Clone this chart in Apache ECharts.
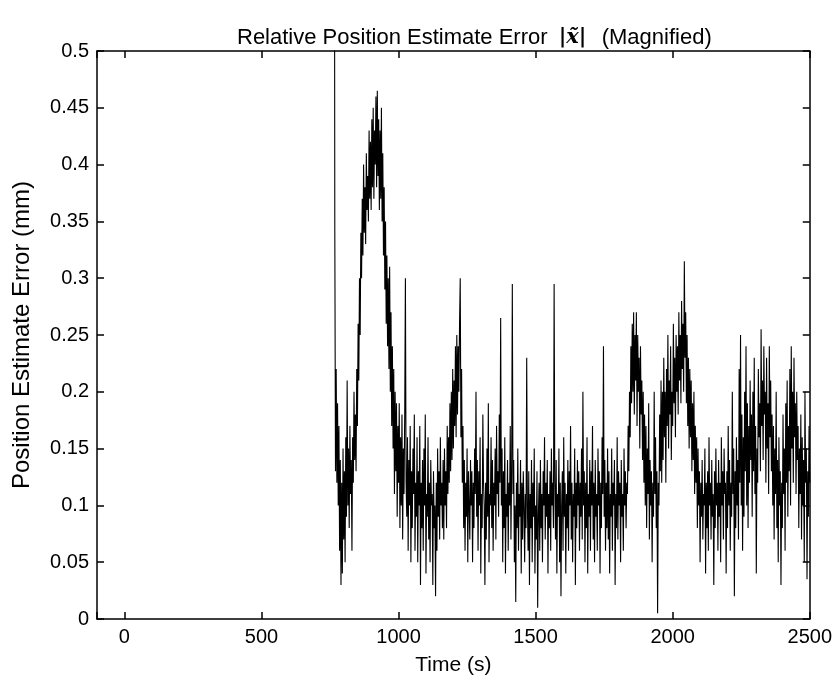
<!DOCTYPE html>
<html>
<head>
<meta charset="utf-8">
<script src="https://cdn.jsdelivr.net/npm/echarts@6/dist/echarts.min.js"></script>
<style>html,body{margin:0;padding:0;background:#fff;}#chart{width:835px;height:681px;}</style>
</head>
<body>
<div id="chart"></div>
<script>
// Sampling grid of the error signal (seconds)
var T_START = 765;
var T_STEP = 2.5;
// Position estimate error (mm), 40 samples (100 s) per block
var errorValues = [
  0.95, 0.34, 0.13, 0.22, 0.12, 0.19, 0.10, 0.17, 0.06, 0.14,
  0.03, 0.12, 0.04, 0.15, 0.07, 0.13, 0.05, 0.16, 0.09, 0.21,
  0.10, 0.15, 0.08, 0.17, 0.11, 0.14, 0.06, 0.16, 0.12, 0.20,
  0.14, 0.18, 0.13, 0.22, 0.17, 0.26, 0.21, 0.30, 0.25, 0.34,

  0.30, 0.37, 0.32, 0.40, 0.34, 0.38, 0.33, 0.41, 0.36, 0.39,
  0.35, 0.43, 0.37, 0.42, 0.36, 0.44, 0.38, 0.45, 0.37, 0.43,
  0.40, 0.46, 0.38, 0.465, 0.39, 0.44, 0.36, 0.43, 0.37, 0.45,
  0.35, 0.41, 0.32, 0.38, 0.29, 0.35, 0.26, 0.32, 0.24, 0.30,

  0.22, 0.31, 0.20, 0.27, 0.17, 0.24, 0.15, 0.22, 0.11, 0.20,
  0.13, 0.19, 0.09, 0.17, 0.12, 0.19, 0.08, 0.16, 0.10, 0.18,
  0.07, 0.15, 0.11, 0.18, 0.30, 0.12, 0.09, 0.16, 0.06, 0.14,
  0.10, 0.17, 0.05, 0.13, 0.08, 0.15, 0.11, 0.18, 0.06, 0.12,

  0.09, 0.16, 0.05, 0.13, 0.10, 0.17, 0.03, 0.12, 0.08, 0.14,
  0.06, 0.15, 0.10, 0.18, 0.04, 0.11, 0.09, 0.16, 0.07, 0.12,
  0.05, 0.14, 0.10, 0.11, 0.03, 0.13, 0.08, 0.10, 0.02, 0.12,
  0.06, 0.15, 0.09, 0.13, 0.07, 0.16, 0.10, 0.12, 0.08, 0.14,

  0.07, 0.15, 0.10, 0.13, 0.08, 0.17, 0.11, 0.16, 0.12, 0.19,
  0.13, 0.20, 0.14, 0.22, 0.15, 0.21, 0.17, 0.24, 0.16, 0.25,
  0.18, 0.24, 0.20, 0.26, 0.30, 0.16, 0.22, 0.12, 0.17, 0.08,
  0.14, 0.06, 0.12, 0.09, 0.15, 0.05, 0.13, 0.10, 0.07, 0.14,

  0.10, 0.13, 0.05, 0.12, 0.08, 0.15, 0.11, 0.20, 0.09, 0.14,
  0.06, 0.13, 0.10, 0.16, 0.04, 0.11, 0.08, 0.18, 0.12, 0.10,
  0.03, 0.12, 0.07, 0.15, 0.09, 0.19, 0.05, 0.11, 0.10, 0.16,
  0.08, 0.14, 0.06, 0.12, 0.10, 0.15, 0.07, 0.17, 0.11, 0.13,

  0.09, 0.18, 0.12, 0.265, 0.10, 0.15, 0.05, 0.13, 0.08, 0.16,
  0.04, 0.11, 0.09, 0.14, 0.06, 0.12, 0.10, 0.17, 0.07, 0.13,
  0.295, 0.11, 0.14, 0.05, 0.10, 0.015, 0.12, 0.08, 0.15, 0.06,
  0.11, 0.09, 0.14, 0.04, 0.12, 0.07, 0.13, 0.10, 0.05, 0.11,

  0.08, 0.23, 0.10, 0.06, 0.13, 0.03, 0.11, 0.08, 0.14, 0.05,
  0.12, 0.09, 0.15, 0.04, 0.10, 0.07, 0.13, 0.01, 0.09, 0.12,
  0.06, 0.14, 0.08, 0.11, 0.05, 0.13, 0.10, 0.16, 0.07, 0.12,
  0.09, 0.14, 0.04, 0.11, 0.08, 0.13, 0.06, 0.15, 0.10, 0.12,

  0.08, 0.295, 0.12, 0.07, 0.14, 0.04, 0.11, 0.09, 0.15, 0.05,
  0.12, 0.02, 0.10, 0.13, 0.06, 0.16, 0.09, 0.12, 0.04, 0.11,
  0.08, 0.14, 0.06, 0.13, 0.10, 0.17, 0.07, 0.12, 0.05, 0.11,
  0.09, 0.15, 0.03, 0.12, 0.08, 0.14, 0.10, 0.13, 0.06, 0.12,

  0.09, 0.15, 0.07, 0.20, 0.10, 0.13, 0.05, 0.12, 0.08, 0.16,
  0.04, 0.11, 0.09, 0.14, 0.06, 0.13, 0.10, 0.17, 0.07, 0.12,
  0.05, 0.14, 0.09, 0.11, 0.06, 0.15, 0.10, 0.13, 0.04, 0.12,
  0.08, 0.16, 0.11, 0.24, 0.09, 0.14, 0.06, 0.12, 0.08, 0.15,

  0.07, 0.13, 0.04, 0.11, 0.09, 0.15, 0.06, 0.12, 0.10, 0.14,
  0.03, 0.11, 0.08, 0.16, 0.07, 0.13, 0.10, 0.12, 0.05, 0.14,
  0.09, 0.11, 0.06, 0.15, 0.10, 0.13, 0.08, 0.12, 0.11, 0.17,
  0.13, 0.20, 0.16, 0.24, 0.19, 0.26, 0.20, 0.27, 0.18, 0.25,

  0.21, 0.27, 0.17, 0.25, 0.20, 0.23, 0.15, 0.24, 0.18, 0.21,
  0.14, 0.20, 0.12, 0.18, 0.10, 0.17, 0.08, 0.15, 0.11, 0.19,
  0.07, 0.14, 0.10, 0.13, 0.05, 0.12, 0.09, 0.20, 0.11, 0.16,
  0.08, 0.13, 0.005, 0.12, 0.10, 0.18, 0.13, 0.21, 0.12, 0.20,

  0.14, 0.23, 0.16, 0.20, 0.12, 0.22, 0.17, 0.25, 0.15, 0.21,
  0.18, 0.24, 0.14, 0.20, 0.17, 0.26, 0.19, 0.23, 0.16, 0.25,
  0.20, 0.24, 0.18, 0.27, 0.21, 0.25, 0.19, 0.28, 0.22, 0.26,
  0.20, 0.315, 0.23, 0.27, 0.19, 0.25, 0.17, 0.23, 0.15, 0.22,

  0.16, 0.21, 0.13, 0.19, 0.14, 0.20, 0.11, 0.17, 0.12, 0.16,
  0.08, 0.15, 0.10, 0.13, 0.05, 0.12, 0.09, 0.14, 0.07, 0.11,
  0.10, 0.15, 0.04, 0.12, 0.08, 0.13, 0.06, 0.16, 0.10, 0.12,
  0.07, 0.14, 0.09, 0.11, 0.03, 0.13, 0.08, 0.15, 0.10, 0.12,

  0.06, 0.14, 0.09, 0.12, 0.05, 0.16, 0.10, 0.13, 0.07, 0.15,
  0.11, 0.12, 0.04, 0.13, 0.08, 0.17, 0.10, 0.14, 0.06, 0.12,
  0.09, 0.20, 0.11, 0.15, 0.02, 0.13, 0.08, 0.16, 0.10, 0.14,
  0.07, 0.22, 0.12, 0.25, 0.10, 0.18, 0.06, 0.16, 0.09, 0.20,

  0.13, 0.24, 0.10, 0.19, 0.08, 0.17, 0.12, 0.21, 0.14, 0.18,
  0.09, 0.20, 0.13, 0.23, 0.11, 0.17, 0.04, 0.15, 0.12, 0.22,
  0.16, 0.19, 0.13, 0.255, 0.17, 0.21, 0.14, 0.24, 0.18, 0.20,
  0.12, 0.23, 0.15, 0.19, 0.11, 0.24, 0.16, 0.21, 0.13, 0.18,

  0.10, 0.17, 0.07, 0.15, 0.11, 0.20, 0.08, 0.14, 0.05, 0.16,
  0.10, 0.13, 0.03, 0.12, 0.08, 0.18, 0.11, 0.15, 0.06, 0.19,
  0.12, 0.21, 0.09, 0.17, 0.13, 0.22, 0.10, 0.24, 0.15, 0.20,
  0.12, 0.23, 0.16, 0.19, 0.11, 0.20, 0.14, 0.17, 0.08, 0.15,

  0.11, 0.18, 0.07, 0.16, 0.10, 0.14, 0.05, 0.20, 0.12, 0.15,
  0.035, 0.13, 0.09, 0.17, 0.12
];
var xTickLabels = ['0', '500', '1000', '1500', '2000', '2500'];
var yTickLabels = ['0', '0.05', '0.1', '0.15', '0.2', '0.25', '0.3', '0.35', '0.4', '0.45', '0.5'];
var titleMain = 'Relative Position Estimate Error ';
var titleSymbol = '|x\u0303|';
var titleTail = '  (Magnified)';
var xName = 'Time (s)';
var yName = 'Position Estimate Error (mm)';

var seriesData = errorValues.map(function (v, i) { return [T_START + i * T_STEP, v]; });

var FONT = '"Liberation Sans", Arial, sans-serif';
var chart = echarts.init(document.getElementById('chart'), null, { renderer: 'canvas' });

function baseX(pos, showLabel) {
  return {
    type: 'value', position: pos, min: -100, max: 2500, splitNumber: 5,
    minInterval: 500, maxInterval: 500,
    axisLine: { show: true, onZero: false, lineStyle: { color: '#000', width: 1.5 } },
    axisTick: { show: true, inside: true, length: 7, lineStyle: { color: '#000', width: 1.5 } },
    axisLabel: {
      show: showLabel, color: '#000', fontFamily: FONT, fontSize: 20, margin: 8,
      formatter: function (v) { var s = String(v); return xTickLabels.indexOf(s) >= 0 ? s : ''; }
    },
    splitLine: { show: false }
  };
}
function baseY(pos, showLabel) {
  return {
    type: 'value', position: pos, min: 0, max: 0.5, interval: 0.05,
    axisLine: { show: true, onZero: false, lineStyle: { color: '#000', width: 1.5 } },
    axisTick: { show: true, inside: true, length: 7, lineStyle: { color: '#000', width: 1.5 } },
    axisLabel: {
      show: showLabel, color: '#000', fontFamily: FONT, fontSize: 20, margin: 8,
      formatter: function (v) { return yTickLabels[Math.round(v / 0.05)]; }
    },
    splitLine: { show: false }
  };
}

var xBottom = baseX('bottom', true);
xBottom.name = xName;
xBottom.nameLocation = 'middle';
xBottom.nameGap = 36;
xBottom.nameTextStyle = { color: '#000', fontFamily: FONT, fontSize: 21 };
var yLeft = baseY('left', true);
yLeft.name = yName;
yLeft.nameLocation = 'middle';
yLeft.nameGap = 63;
yLeft.nameTextStyle = { color: '#000', fontFamily: FONT, fontSize: 24 };

chart.setOption({
  animation: false,
  backgroundColor: '#fff',
  title: {
    text: '{a|' + titleMain + '}{m|' + titleSymbol + '}{a|' + titleTail + '}',
    left: 232, top: 22,
    textStyle: {
      fontWeight: 'normal',
      rich: {
        a: { fontFamily: FONT, fontSize: 22, fontWeight: 'normal', color: '#000' },
        m: { fontFamily: '"DejaVu Serif", serif', fontStyle: 'italic', fontWeight: 'bold', fontSize: 21, color: '#000', padding: [0, 3, 0, 5] }
      }
    }
  },
  grid: { left: 97, right: 25, top: 51, bottom: 61, containLabel: false },
  xAxis: [xBottom, baseX('top', false)],
  yAxis: [yLeft, baseY('right', false)],
  series: [{
    type: 'line', xAxisIndex: 0, yAxisIndex: 0, data: seriesData,
    showSymbol: false, symbol: 'none', clip: true,
    lineStyle: { color: '#000', width: 1.1 }
  }]
});
</script>
</body>
</html>
